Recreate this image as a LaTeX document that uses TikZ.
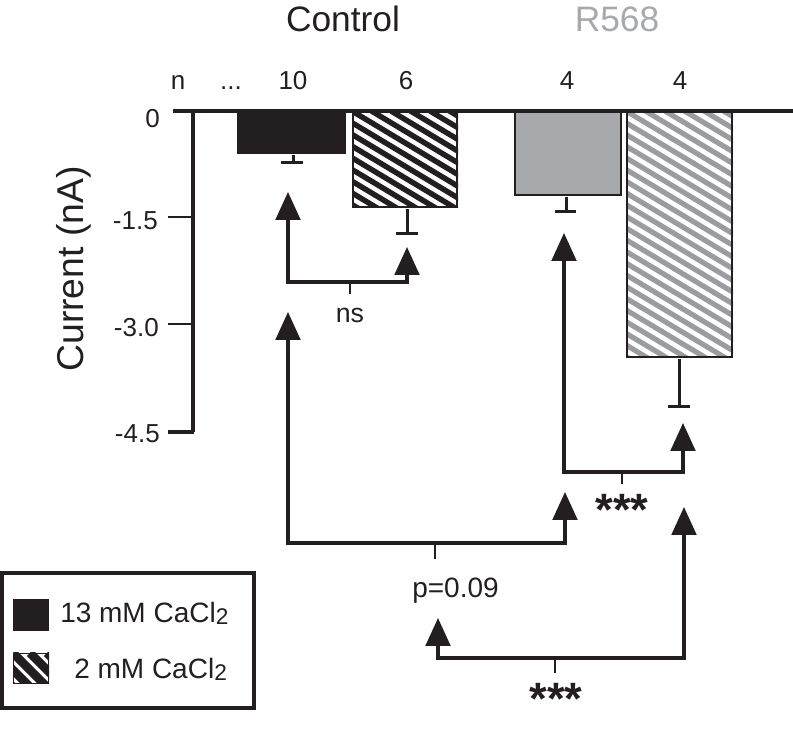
\documentclass[tikz,border=0pt]{standalone}
\usepackage{fontspec}
\setmainfont{Liberation Sans}
\usetikzlibrary{arrows.meta}
\definecolor{ink}{HTML}{231F20}
\definecolor{rgray}{HTML}{A7A9AC}
\definecolor{hgray}{HTML}{9A9C9F}
\newcommand\hatchfill[8]{%
  \begin{scope}
    \clip (#1,#2) rectangle (#3,#4);
    \fill[white] (#1,#2) rectangle (#3,#4);
    \foreach \k in {-40,...,12}
      \draw[#5, line width=#6] ({#1+\k*#7},#2) -- ++(500,{500*#8});
  \end{scope}}
\tikzset{
  axisline/.style={ink, line width=2.4pt},
  errline/.style={ink, line width=2.25pt},
  connboth/.style={ink, line width=2.4pt, line join=miter,
    {Triangle[length=21pt,width=18.5pt]}-{Triangle[length=21pt,width=18.5pt]}},
  ticktick/.style={ink, line width=2.2pt},
  ticklbl/.style={ink, inner sep=0pt, anchor=base east, font=\fontsize{19.5}{20}\selectfont},
  nlbl/.style={ink, inner sep=0pt, anchor=base, font=\fontsize{19.5}{20}\selectfont},
  grouplbl/.style={inner sep=0pt, anchor=base, font=\fontsize{26.5}{28}\selectfont},
  statlbl/.style={ink, inner sep=0pt, anchor=base, font=\fontsize{20}{22}\selectfont},
  starlbl/.style={ink, inner sep=0pt, anchor=base, font=\fontsize{34}{36}\selectfont\bfseries},
  leglbl/.style={ink, inner sep=0pt, anchor=base west, font=\fontsize{21}{22}\selectfont},
}
\newcommand\subtwo{{\fontsize{17}{17}\selectfont\raisebox{-1.5pt}{2}}}
\begin{document}
\begin{tikzpicture}[x=0.75pt,y=-0.75pt]
\useasboundingbox (0,0) rectangle (793,737);

% ---- bars ----
\fill[ink] (237,111) rectangle (346,154);
\node[inner sep=0pt] (bar1) at (293,154) {};

\hatchfill{352}{111}{458}{208}{ink}{4.1pt}{19.5}{0.6}
\draw[ink, line width=2pt] (353,111) rectangle (457,207);
\node[inner sep=0pt] (bar2) at (407,208) {};

\fill[rgray] (514,111) rectangle (622,196);
\draw[ink, line width=1.8pt] (515,111) rectangle (621,195);
\node[inner sep=0pt] (bar3) at (566,196) {};

\hatchfill{626}{111}{733}{358}{hgray}{3.9pt}{19.5}{0.6}
\draw[ink, line width=1.8pt] (627,111) rectangle (732,357);
\node[inner sep=0pt] (bar4) at (679,358) {};

% ---- error bars ----
\coordinate (e1) at (293,163);
\draw[errline] (bar1) -- (e1);
\draw[errline] (281,163) -- (303,163);
\coordinate (e2) at (407,234);
\draw[errline] (bar2) -- (e2);
\draw[errline] (396,234) -- (418,234);
\coordinate (e3) at (566,212);
\draw[errline] (bar3) -- (e3);
\draw[errline] (555,212) -- (576,212);
\coordinate (e4) at (679,407);
\draw[errline] (bar4) -- (e4);
\draw[errline] (668,407) -- (690,407);

% ---- axes ----
\coordinate (ax0L) at (173,111);
\coordinate (ax0R) at (793,111);
\coordinate (axTop) at (193,111);
\coordinate (axBot) at (193,432);
\draw[axisline] (ax0L) -- (ax0R);
\draw[axisline] (axTop) -- (axBot);
\coordinate (t15a) at (168,217); \coordinate (t15b) at (193,217);
\coordinate (t30a) at (168,324); \coordinate (t30b) at (193,324);
\coordinate (t45a) at (168,432); \coordinate (t45b) at (194.2,432);
\draw[ticktick] (t15a) -- (t15b);
\draw[ticktick] (t30a) -- (t30b);
\draw[axisline] (t45a) -- (t45b);

\node[ticklbl] (l0) at (160,128) {0};
\node[ticklbl] (l15) at (158,230) {-1.5};
\node[ticklbl] (l30) at (159,337) {-3.0};
\node[ticklbl] (l45) at (160,443) {-4.5};
\node[ink, rotate=90, inner sep=0pt, font=\fontsize{28}{28}\selectfont] (ylab) at (74,269) {Current (nA)};

% ---- headings ----
\node[grouplbl, ink] (ctrl) at (343,32) {Control};
\node[grouplbl, rgray] (r568) at (617,32) {R568};
\node[nlbl] (nn) at (178,90) {n};
\node[nlbl] (ndots) at (231,90) {...};
\node[nlbl] (n1) at (293,90) {10};
\node[nlbl] (n2) at (406,90) {6};
\node[nlbl] (n3) at (567,90) {4};
\node[nlbl] (n4) at (680,90) {4};

% ---- comparisons ----
% ns
\coordinate (nsLt) at (288,192);
\coordinate (nsLc) at (288,282);
\coordinate (nsRc) at (407,282);
\coordinate (nsRt) at (407,247);
\draw[connboth] (nsLt) -- (nsLc) -- (nsRc) -- (nsRt);
\coordinate (nsM) at (350,282); \coordinate (nsMt) at (350,294);
\draw[ticktick] (nsM) -- (nsMt);
\node[statlbl] (ns) at (350,323) {ns};

% p=0.09
\coordinate (pLt) at (288,312);
\coordinate (pLc) at (288,543);
\coordinate (pRc) at (565,543);
\coordinate (pRt) at (565,492);
\draw[connboth] (pLt) -- (pLc) -- (pRc) -- (pRt);
\coordinate (pM) at (435,543); \coordinate (pMt) at (435,559);
\draw[ticktick] (pM) -- (pMt);
\node[statlbl, anchor=base west, font=\fontsize{21}{22}\selectfont] (pval) at (412,598) {p=0.09};

% R568 ***
\coordinate (rLt) at (564,233);
\coordinate (rLc) at (564,472);
\coordinate (rRc) at (683,472);
\coordinate (rRt) at (683,423);
\draw[connboth] (rLt) -- (rLc) -- (rRc) -- (rRt);
\coordinate (rM) at (622,472); \coordinate (rMt) at (622,484);
\draw[ticktick] (rM) -- (rMt);
\node[starlbl] (rstar) at (622,526) {***};

% bottom ***
\coordinate (bLt) at (438,618);
\coordinate (bLc) at (438,658);
\coordinate (bRc) at (684,658);
\coordinate (bRt) at (684,507);
\draw[connboth] (bLt) -- (bLc) -- (bRc) -- (bRt);
\coordinate (bM) at (555,658); \coordinate (bMt) at (555,673);
\draw[ticktick] (bM) -- (bMt);
\node[starlbl] (bstar) at (556,715) {***};

% ---- legend ----
\draw[ink, line width=2.4pt] (2,573) rectangle (254,708);
\fill[ink] (13,599) rectangle (49,631);
\hatchfill{13}{653}{49}{684}{ink}{6.5pt}{17}{1}
\draw[ink, line width=1.2pt] (13.4,653.4) rectangle (48.6,683.6);
\node[leglbl] (leg1) at (60,623) {13 mM CaCl\subtwo};
\node[leglbl] (leg2) at (74,679) {2 mM CaCl\subtwo};
\end{tikzpicture}
\end{document}
